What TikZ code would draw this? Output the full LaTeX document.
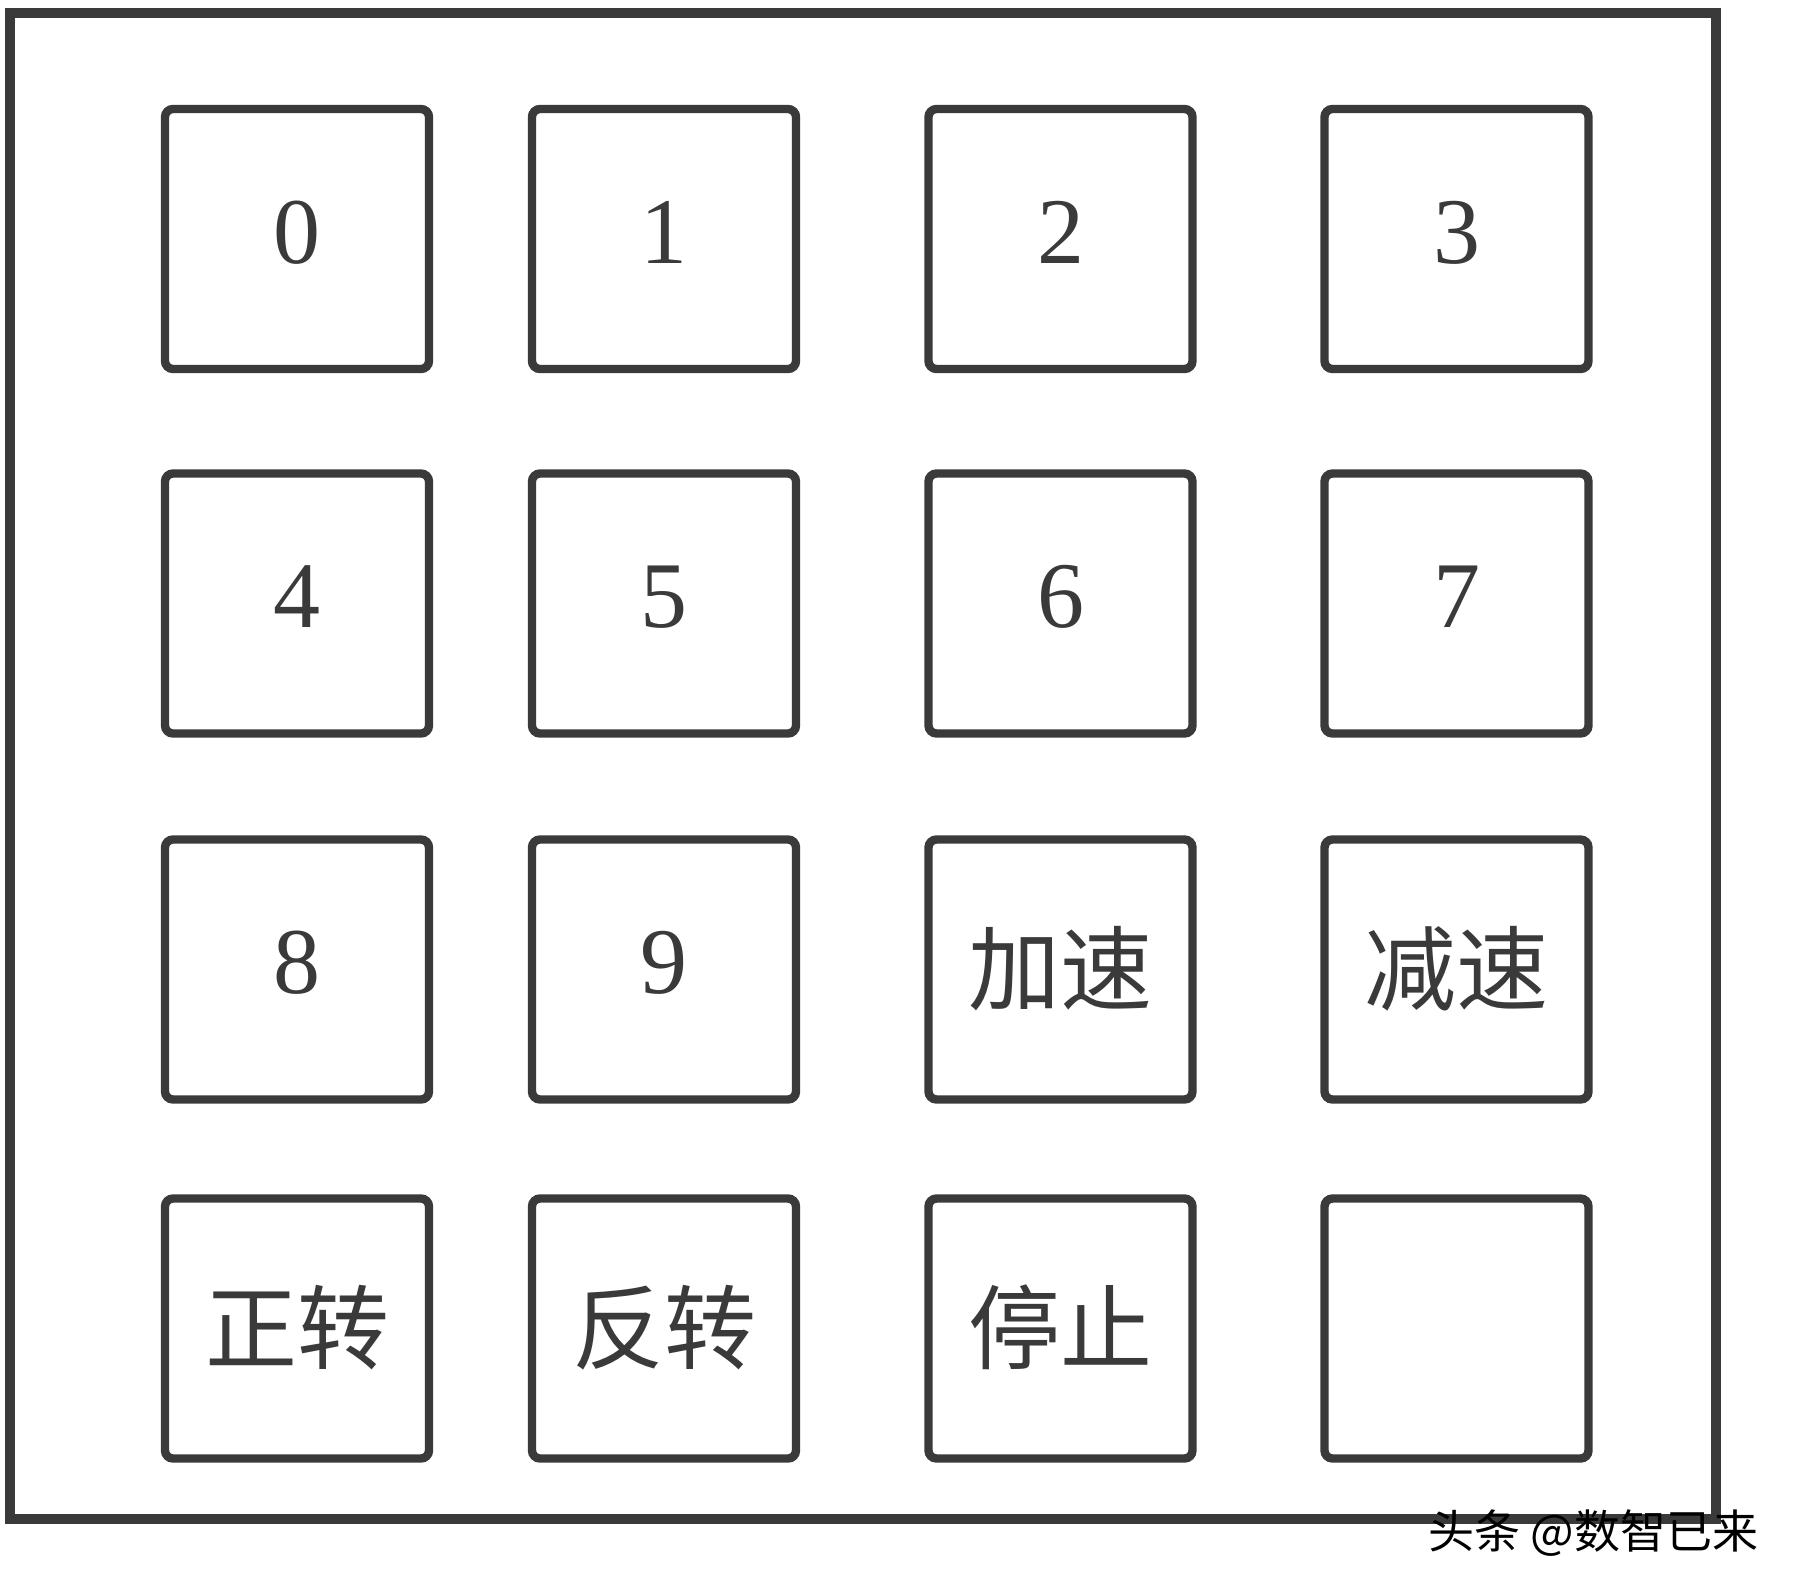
\documentclass[tikz,border=0pt]{standalone}
\usepackage{fontspec}
\setmainfont{Liberation Serif}
\newfontfamily\cjk{Noto Sans CJK SC}
\definecolor{edge}{HTML}{3A3A3A}
\begin{document}
\begin{tikzpicture}[x=0.5pt,y=-0.5pt,
  keybox/.style={draw=edge, line width=4.2pt, rounded corners=4pt,
    minimum width=132pt, minimum height=130pt, inner sep=0pt,
    font=\fontsize{47}{54}\selectfont, text=edge},
  cn/.style={font=\cjk\fontsize{46}{52}\selectfont},
  wmark/.style={font=\cjk\fontsize{23}{26}\selectfont, text=black, inner sep=0pt}]
\useasboundingbox (0,0) rectangle (1800,1596);
\draw[edge, line width=4.6pt] (10,13) rectangle (1716,1519);
% row 1
\node[keybox] (k0) at (297,239) {\raisebox{7pt}{0}};
\node[keybox] (k1) at (664,239) {\raisebox{7pt}{1}};
\node[keybox] (k2) at (1060.5,239) {\raisebox{7pt}{2}};
\node[keybox] (k3) at (1456.5,239) {\raisebox{7pt}{3}};
% row 2
\node[keybox] (k4) at (297,603.5) {\raisebox{7pt}{4}};
\node[keybox] (k5) at (664,603.5) {\raisebox{7pt}{5}};
\node[keybox] (k6) at (1060.5,603.5) {\raisebox{7pt}{6}};
\node[keybox] (k7) at (1456.5,603.5) {\raisebox{7pt}{7}};
% row 3
\node[keybox] (k8) at (297,969.5) {\raisebox{7pt}{8}};
\node[keybox] (k9) at (664,969.5) {\raisebox{7pt}{9}};
\node[keybox, cn] (acc) at (1060.5,969.5) {\raisebox{5pt}{加速}};
\node[keybox, cn] (dec) at (1456.5,969.5) {\raisebox{5pt}{减速}};
% row 4
\node[keybox, cn] (fwd) at (297,1328.5) {\raisebox{5pt}{正转}};
\node[keybox, cn] (rev) at (664,1328.5) {\raisebox{5pt}{反转}};
\node[keybox, cn] (stop) at (1060.5,1328.5) {\raisebox{5pt}{停止}};
\node[keybox] (blank) at (1456.5,1328.5) {};
% watermark
\node[wmark, anchor=west] (wm) at (1428,1533) {头条 @数智已来};
\end{tikzpicture}
\end{document}
